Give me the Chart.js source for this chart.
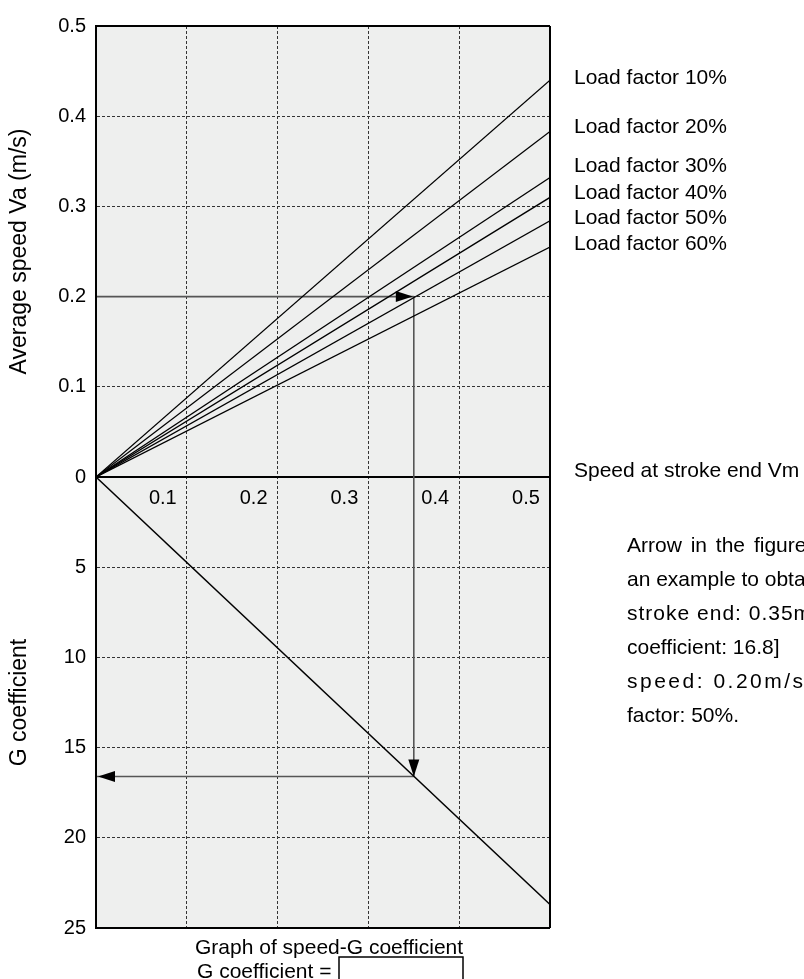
<!DOCTYPE html>
<html><head><meta charset="utf-8">
<script src="https://cdn.jsdelivr.net/npm/chart.js@4/dist/chart.umd.min.js"></script>
<style>html,body{margin:0;padding:0;background:#fff;overflow:hidden}canvas{display:block}</style>
</head><body>
<canvas id="c" width="804" height="979"></canvas>
<script>
// ---- data ----
const loadFactorLabels = ['Load factor 10%','Load factor 20%','Load factor 30%','Load factor 40%','Load factor 50%','Load factor 60%'];
const strokeEndRange = [0, 0.5];            // speed at stroke end Vm (m/s): start, end of drawn lines
const avgSpeedAtRangeEnd = [0.440, 0.383, 0.332, 0.310, 0.284, 0.255]; // Va at Vm = 0.5
const gCoefAtRangeEnd = 23.7;               // G coefficient at Vm = 0.5
const speedTicks = [0, 0.1, 0.2, 0.3, 0.4, 0.5];
const gTicks = [0, 5, 10, 15, 20, 25];
const exampleVm = 0.35, exampleVa = 0.20, exampleG = 16.6;

const FONT = '"Liberation Sans", Arial, Helvetica, sans-serif';
Chart.defaults.font.family = FONT;
Chart.defaults.color = '#000';

const datasets = [];
avgSpeedAtRangeEnd.forEach((v, i) => {
  datasets.push({label: loadFactorLabels[i], yAxisID: 'y',
    data: [{x: strokeEndRange[0], y: 0}, {x: strokeEndRange[1], y: v}],
    borderColor: '#000', borderWidth: 1.3});
});
datasets.push({label: 'G', yAxisID: 'yG',
  data: [{x: strokeEndRange[0], y: 0}, {x: strokeEndRange[1], y: gCoefAtRangeEnd}],
  borderColor: '#000', borderWidth: 1.5});
const arrowStyle = {borderColor: '#555', borderWidth: 1.6};
datasets.push({label: 'a1', yAxisID: 'y', data: [{x: 0, y: exampleVa}, {x: exampleVm, y: exampleVa}], ...arrowStyle});
datasets.push({label: 'a2', yAxisID: 'y', data: [{x: exampleVm, y: exampleVa}, {x: exampleVm, y: 0}], ...arrowStyle});
datasets.push({label: 'a3', yAxisID: 'yG', data: [{x: exampleVm, y: 0}, {x: exampleVm, y: exampleG}], ...arrowStyle});
datasets.push({label: 'a4', yAxisID: 'yG', data: [{x: exampleVm, y: exampleG}, {x: 0, y: exampleG}], ...arrowStyle});
datasets.forEach(d => { d.showLine = true; d.pointRadius = 0; d.fill = false; });

const GRID = '#333';
const DASH = [3, 2];

const bgPlugin = {
  id: 'bg',
  beforeDraw(chart) {
    const {ctx, chartArea: a} = chart;
    ctx.save(); ctx.fillStyle = '#eeefee';
    ctx.fillRect(a.left, a.top, a.right - a.left, a.bottom - a.top);
    ctx.restore();
  },
  afterDatasetsDraw(chart) {
    const {ctx, chartArea: a, scales} = chart;
    ctx.save();
    ctx.strokeStyle = '#000'; ctx.lineWidth = 2;
    ctx.beginPath();
    ctx.moveTo(a.left, a.top); ctx.lineTo(a.right, a.top);
    ctx.moveTo(a.right, a.top); ctx.lineTo(a.right, a.bottom);
    ctx.moveTo(a.left, a.bottom); ctx.lineTo(a.right, a.bottom);
    ctx.moveTo(a.left, a.top); ctx.lineTo(a.left, a.bottom);
    ctx.stroke();
    // arrow heads
    ctx.fillStyle = '#000';
    const L = 17, W = 5.5;
    const x1 = scales.x.getPixelForValue(exampleVm), y1 = scales.y.getPixelForValue(exampleVa);
    ctx.beginPath(); ctx.moveTo(x1 - 1, y1); ctx.lineTo(x1 - 1 - L, y1 - W); ctx.lineTo(x1 - 1 - L, y1 + W); ctx.closePath(); ctx.fill();
    const y2 = scales.yG.getPixelForValue(exampleG);
    ctx.beginPath(); ctx.moveTo(x1, y2); ctx.lineTo(x1 - W, y2 - L); ctx.lineTo(x1 + W, y2 - L); ctx.closePath(); ctx.fill();
    const x3 = scales.x.getPixelForValue(0) + 2;
    ctx.beginPath(); ctx.moveTo(x3, y2); ctx.lineTo(x3 + L, y2 - W); ctx.lineTo(x3 + L, y2 + W); ctx.closePath(); ctx.fill();
    ctx.restore();
  },
  afterDraw(chart) {
    const {ctx, chartArea: a} = chart;
    ctx.save();
    ctx.fillStyle = '#000';
    ctx.font = '21px ' + FONT;
    ctx.textBaseline = 'alphabetic';
    ctx.textAlign = 'left';
    const lx = a.right + 24;
    const lb = [84, 133, 172, 199, 224, 250];
    loadFactorLabels.forEach((t, i) => ctx.fillText(t, lx, lb[i]));
    ctx.fillText('Speed at stroke end Vm', lx, 477);
    const px = 627;
    const para = [
      ['Arrow in the figure shows', 3, 0],
      ['an example to obtain [speed at', 0, 0],
      ['stroke end: 0.35m/s \u2192 G', 0, 1],
      ['coefficient: 16.8]', 0, 0],
      ['speed: 0.20m/s, load', 0, 2.5],
      ['factor: 50%.', 0, 0]
    ];
    para.forEach((p, i) => {
      ctx.wordSpacing = p[1] + 'px';
      ctx.letterSpacing = p[2] + 'px';
      ctx.fillText(p[0], px, 552 + i * 34);
    });
    ctx.wordSpacing = '0px'; ctx.letterSpacing = '0px';
    ctx.fillText('Graph of speed-G coefficient', 195, 954);
    ctx.fillText('G coefficient =', 197, 978);
    ctx.strokeStyle = '#000'; ctx.lineWidth = 1.5;
    ctx.strokeRect(339, 957, 124, 40);
    ctx.restore();
  }
};

new Chart(document.getElementById('c'), {
  type: 'scatter',
  data: {datasets},
  plugins: [bgPlugin],
  options: {
    responsive: false, animation: false, devicePixelRatio: 1,
    layout: {padding: {left: 0, top: 26, right: 254, bottom: 51}},
    plugins: {legend: {display: false}, tooltip: {enabled: false}},
    scales: {
      x: {
        type: 'linear', min: speedTicks[0], max: speedTicks[speedTicks.length - 1],
        position: {y: 0},
        afterBuildTicks: s => { s.ticks = speedTicks.map(v => ({value: v})); },
        ticks: {font: {size: 20}, color: '#000', padding: 9, labelOffset: -24, maxRotation: 0,
          callback: v => v === 0 ? '' : v.toFixed(1)},
        grid: {color: GRID, lineWidth: 1, drawTicks: false},
        border: {display: true, color: '#000', width: 2, dash: DASH}
      },
      yG: {
        type: 'linear', min: gTicks[0], max: gTicks[gTicks.length - 1], reverse: true,
        position: 'left', stack: 'v', stackWeight: 1,
        afterBuildTicks: s => { s.ticks = gTicks.map(v => ({value: v})); },
        ticks: {font: {size: 20}, color: '#000', padding: 10,
          callback: v => v === 0 ? '' : String(v)},
        grid: {color: c => (c.tick && c.tick.value === 0) ? 'rgba(0,0,0,0)' : GRID, lineWidth: 1, drawTicks: false},
        border: {display: true, color: '#000', width: 2, dash: DASH},
        title: {display: true, text: 'G coefficient', font: {size: 23}, color: '#000', padding: {top: 6, bottom: 0}},
        afterFit: s => { s.width = 96; }
      },
      y: {
        type: 'linear', min: speedTicks[0], max: speedTicks[speedTicks.length - 1],
        position: 'left', stack: 'v', stackWeight: 1,
        afterBuildTicks: s => { s.ticks = speedTicks.map(v => ({value: v})); },
        ticks: {font: {size: 20}, color: '#000', padding: 10,
          callback: v => v === 0 ? '0' : v.toFixed(1)},
        grid: {color: c => (c.tick && c.tick.value === 0) ? 'rgba(0,0,0,0)' : GRID, lineWidth: 1, drawTicks: false},
        border: {display: true, color: '#000', width: 2, dash: DASH},
        title: {display: true, text: 'Average speed Va (m/s)', font: {size: 23}, color: '#000', padding: {top: 6, bottom: 0}},
        afterFit: s => { s.width = 96; }
      }
    }
  }
});
</script>
</body></html>
